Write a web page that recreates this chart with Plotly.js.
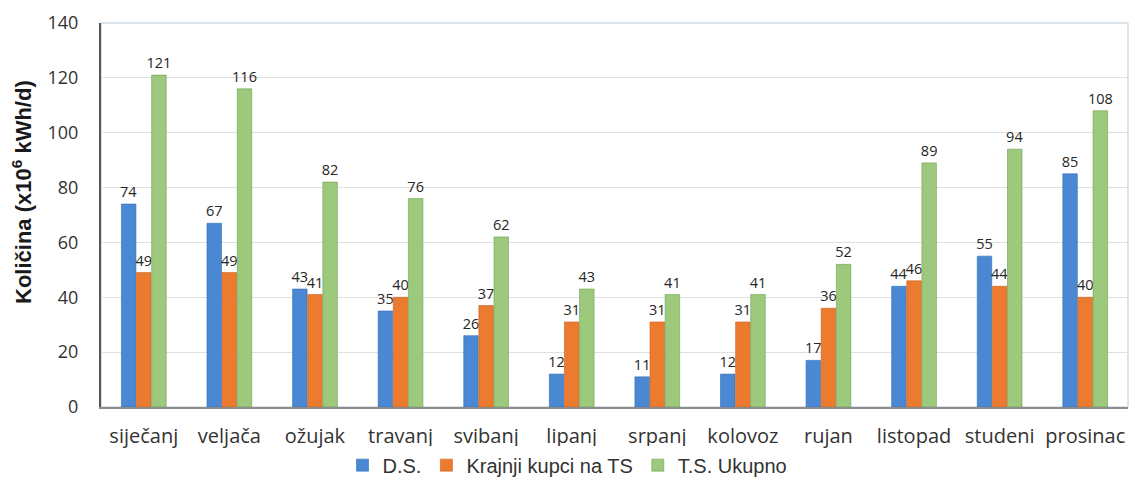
<!DOCTYPE html>
<html>
<head>
<meta charset="utf-8">
<script src="https://cdn.plot.ly/plotly-3.0.1.min.js"></script>
<style>html,body{margin:0;padding:0;background:#fff;}#chart{width:1135px;height:483px;}</style>
</head>
<body>
<div id="chart"></div>
<script>
const months = ['siječanj','veljača','ožujak','travanj','svibanj','lipanj','srpanj','kolovoz','rujan','listopad','studeni','prosinac'];
const seriesNames = ['D.S.','Krajnji kupci na TS','T.S. Ukupno'];
const dsValues = [74, 67, 43, 35, 26, 12, 11, 12, 17, 44, 55, 85];
const krajnjiValues = [49, 49, 41, 40, 37, 31, 31, 31, 36, 46, 44, 40];
const tsValues = [121, 116, 82, 76, 62, 43, 41, 41, 52, 89, 94, 108];
const yTicks = [0, 20, 40, 60, 80, 100, 120, 140];
const yTitle = 'Količina (x10<sup>6</sup> kWh/d)';

const colors = ['#4a88d4', '#ec7a2f', '#9cc97c'];
const lineColors = ['#2f6db5', '#c85f1c', '#6f9f52'];
const allValues = [dsValues, krajnjiValues, tsValues];

const traces = allValues.map((vals, i) => ({
  type: 'bar',
  name: seriesNames[i],
  x: months,
  y: vals,
  marker: {color: colors[i], line: {color: lineColors[i], width: 0.6}},
  text: vals.map(String),
  texttemplate: '%{text}',
  textposition: 'outside',
  constraintext: 'none',
  cliponaxis: false,
  textfont: {family: '"Open Sans", sans-serif', size: 14.5, color: '#262626'},
  hoverinfo: 'x+y+name'
}));

const layout = {
  width: 1135, height: 483,
  margin: {l: 101, r: 7, t: 23, b: 76},
  paper_bgcolor: '#ffffff',
  plot_bgcolor: '#ffffff',
  barmode: 'group',
  bargap: 0.47,
  bargroupgap: 0.04,
  font: {family: 'Liberation Sans, Arial, sans-serif', color: '#333333'},
  showlegend: true,
  legend: {
    orientation: 'h', x: 0.5, xanchor: 'center', xref: 'container',
    y: 0.037, yanchor: 'middle', yref: 'container',
    font: {size: 20, color: '#333333', family: 'Liberation Sans, Arial, sans-serif'},
    itemwidth: 30, traceorder: 'normal', tracegroupgap: 0
  },
  xaxis: {
    type: 'category',
    showline: true, linecolor: '#8c8c8c', linewidth: 1.5,
    ticks: 'outside', ticklen: 10, tickcolor: 'rgba(0,0,0,0)',
    tickfont: {size: 20, color: '#333333', family: '"Open Sans", sans-serif'},
    showgrid: false, zeroline: false
  },
  yaxis: {
    range: [0, 140],
    tickvals: yTicks,
    showline: true, linecolor: '#555555', linewidth: 2,
    ticks: 'outside', ticklen: 17, tickcolor: 'rgba(0,0,0,0)',
    tickfont: {size: 18, color: '#333333', family: '"Open Sans", sans-serif'},
    showgrid: true, gridcolor: '#e0e0e0', gridwidth: 1,
    zeroline: false
  },
  annotations: [{
    text: yTitle, textangle: -90, showarrow: false,
    xref: 'paper', yref: 'paper', x: -0.0769, y: 0.56, xanchor: 'center', yanchor: 'middle',
    font: {size: 22, color: '#1a1a1a', family: 'Liberation Sans, Arial, sans-serif', weight: 'bold'}
  }],
  shapes: [{
    type: 'rect', xref: 'paper', yref: 'paper', x0: 0, x1: 1, y0: 0, y1: 1,
    line: {color: '#b8c8d6', width: 1}, layer: 'below'
  }]
};

Plotly.newPlot('chart', traces, layout, {displayModeBar: false, staticPlot: true});
</script>
</body>
</html>
